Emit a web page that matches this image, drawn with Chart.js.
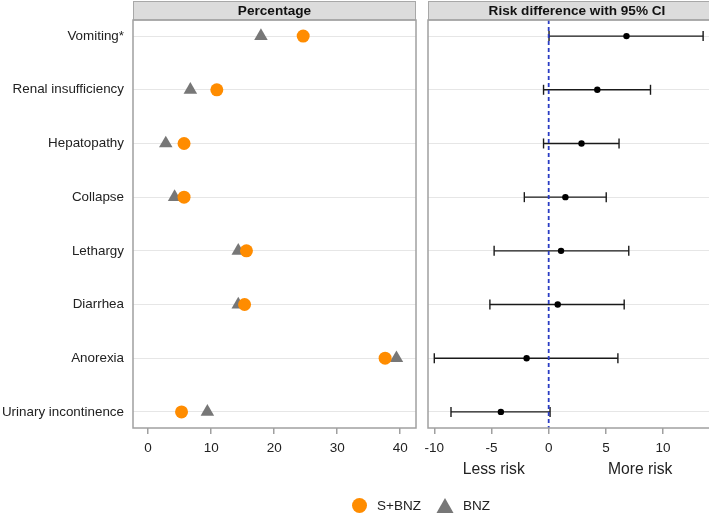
<!DOCTYPE html>
<html><head><meta charset="utf-8">
<script src="https://cdn.jsdelivr.net/npm/chart.js@4"></script>
<style>
html,body{margin:0;padding:0;background:#fff;}
#wrap{position:relative;width:709px;height:515px;overflow:hidden;font-family:"Liberation Sans",Arial,sans-serif;color:#222;}
#c1{position:absolute;left:0;top:0;}
#c2{position:absolute;left:420px;top:0;}
.lg{position:absolute;font-size:13.5px;line-height:16px;top:498px;}
</style></head>
<body><div id="wrap">
<canvas id="c1" width="420" height="515"></canvas>
<canvas id="c2" width="306" height="515"></canvas>
<span style="position:absolute;left:352px;top:498px;width:15px;height:15px;border-radius:50%;background:#ff8c00;"></span>
<span class="lg" style="left:377px;">S+BNZ</span>
<svg style="position:absolute;left:436px;top:497px;" width="18" height="17"><polygon points="9,1 17.5,16 0.5,16" fill="#777777"/></svg>
<span class="lg" style="left:463px;">BNZ</span>
</div>
<script>
const categories = ["Vomiting*","Renal insufficiency","Hepatopathy","Collapse","Lethargy","Diarrhea","Anorexia","Urinary incontinence"];
const sBnzPct = [24.6, 10.9, 5.7, 5.7, 15.6, 15.3, 37.6, 5.3];
const bnzPct  = [17.9, 6.7, 2.8, 4.2, 14.3, 14.3, 39.4, 9.4];
const rdPoint = [6.8, 4.25, 2.87, 1.46, 1.08, 0.79, -1.93, -4.18];
const rdLow   = [0.03, -0.45, -0.45, -2.13, -4.77, -5.14, -10.0, -8.54];
const rdHigh  = [13.5, 8.9, 6.15, 5.03, 7.0, 6.6, 6.05, 0.12];
const leftTicks = [0, 10, 20, 30, 40];
const rightTicks = [-10, -5, 0, 5, 10];

const FONT = "'Liberation Sans', Arial, sans-serif";
Chart.defaults.font.family = FONT;
Chart.defaults.font.size = 13;
Chart.defaults.color = '#222';

const panelPlugin = {
  id: 'panel',
  beforeDraw(chart, args, opts) {
    const {ctx, chartArea: a} = chart;
    ctx.save();
    ctx.fillStyle = '#dcdcdc';
    ctx.fillRect(a.left, 1, a.right - a.left, a.top - 1);
    ctx.strokeStyle = '#a8a8a8';
    ctx.lineWidth = 1;
    ctx.strokeRect(a.left + 0.5, 1.5, a.right - a.left - 1, a.top - 1.5);
    ctx.fillStyle = '#111';
    ctx.font = "bold 13.6px " + FONT;
    ctx.textAlign = 'center';
    ctx.textBaseline = 'middle';
    ctx.fillText(opts.title, (a.left + a.right) / 2, (a.top + 2) / 2 + 0.5);
    ctx.restore();
  },
  afterDraw(chart, args, opts) {
    const {ctx, chartArea: a} = chart;
    ctx.save();
    ctx.strokeStyle = '#a0a0a0';
    ctx.lineWidth = 1.5;
    ctx.strokeRect(a.left, a.top, a.right - a.left, a.bottom - a.top);
    if (opts.notes) {
      const xs = chart.scales.x;
      ctx.fillStyle = '#222';
      ctx.font = "15.7px " + FONT;
      ctx.textAlign = 'center';
      ctx.textBaseline = 'middle';
      opts.notes.forEach(n => ctx.fillText(n.text, xs.getPixelForValue(n.x), 470));
    }
    ctx.restore();
  }
};

function yScale(showLabels, width) {
  return {
    type: 'linear', reverse: true, min: -0.3, max: 7.3,
    afterBuildTicks: s => { s.ticks = categories.map((c, i) => ({value: i})); },
    afterFit: s => { s.width = width; s.paddingTop = 0; s.paddingBottom = 0; },
    grid: {color: '#e6e6e6', lineWidth: 1, drawTicks: false},
    border: {display: false},
    ticks: {display: showLabels, padding: 9, color: '#222', font: {size: 13.4},
            callback: v => categories[v]}
  };
}
function xScale(min, max, ticks) {
  return {
    type: 'linear', min: min, max: max,
    afterBuildTicks: s => { s.ticks = ticks.map(v => ({value: v})); },
    afterFit: s => { s.height = 515 - 428; s.paddingLeft = 0; s.paddingRight = 0; },
    grid: {drawOnChartArea: false, drawTicks: true, tickLength: 6, color: '#a0a0a0', lineWidth: 1.5},
    border: {display: false},
    ticks: {padding: 6, color: '#222', font: {size: 13.5}, callback: v => String(v)}
  };
}

new Chart(document.getElementById('c1'), {
  type: 'scatter',
  data: {datasets: [
    {label: 'S+BNZ', data: sBnzPct.map((v, i) => ({x: v, y: i})), pointStyle: 'circle', pointRadius: 6.5,
     backgroundColor: '#ff8c00', borderColor: '#ff8c00', borderWidth: 0},
    {label: 'BNZ', data: bnzPct.map((v, i) => ({x: v, y: i})), pointStyle: 'triangle', pointRadius: 7.8,
     backgroundColor: '#777777', borderColor: '#777777', borderWidth: 0}
  ]},
  options: {
    responsive: false, animation: false,
    layout: {autoPadding: false, padding: {top: 20, right: 4, left: 0, bottom: 0}},
    plugins: {legend: {display: false}, tooltip: {enabled: false}, panel: {title: 'Percentage'}},
    scales: {x: xScale(-2.4, 42.5, leftTicks), y: yScale(true, 133)}
  },
  plugins: [panelPlugin]
});

const ciSets = categories.map((c, i) => ({
  label: 'ci' + i, type: 'line',
  data: [{x: rdLow[i], y: i}, {x: rdHigh[i], y: i}],
  borderColor: '#1a1a1a', borderWidth: 1.4, showLine: true,
  pointStyle: 'line', rotation: 90, pointRadius: 5, pointBorderWidth: 1.4,
  pointBorderColor: '#1a1a1a', pointBackgroundColor: '#1a1a1a'
}));

new Chart(document.getElementById('c2'), {
  type: 'scatter',
  data: {datasets: [
    {label: 'RD', data: rdPoint.map((v, i) => ({x: v, y: i})), pointStyle: 'circle', pointRadius: 3.2,
     backgroundColor: '#000', borderColor: '#000', borderWidth: 0},
    {label: 'zero', type: 'line', data: [{x: 0, y: -0.3}, {x: 0, y: 7.3}], showLine: true,
     borderColor: '#2a3cc4', borderWidth: 1.8, borderDash: [4, 3], pointRadius: 0},
    ...ciSets
  ]},
  options: {
    responsive: false, animation: false,
    layout: {autoPadding: false, padding: {top: 20, right: 0, left: 8, bottom: 0}},
    plugins: {legend: {display: false}, tooltip: {enabled: false},
              panel: {title: 'Risk difference with 95% CI', notes: [{text: 'Less risk', x: -4.8}, {text: 'More risk', x: 8.0}]}},
    scales: {x: xScale(-10.55, 15.5, rightTicks), y: yScale(false, 0)}
  },
  plugins: [panelPlugin]
});
</script>
</body></html>
